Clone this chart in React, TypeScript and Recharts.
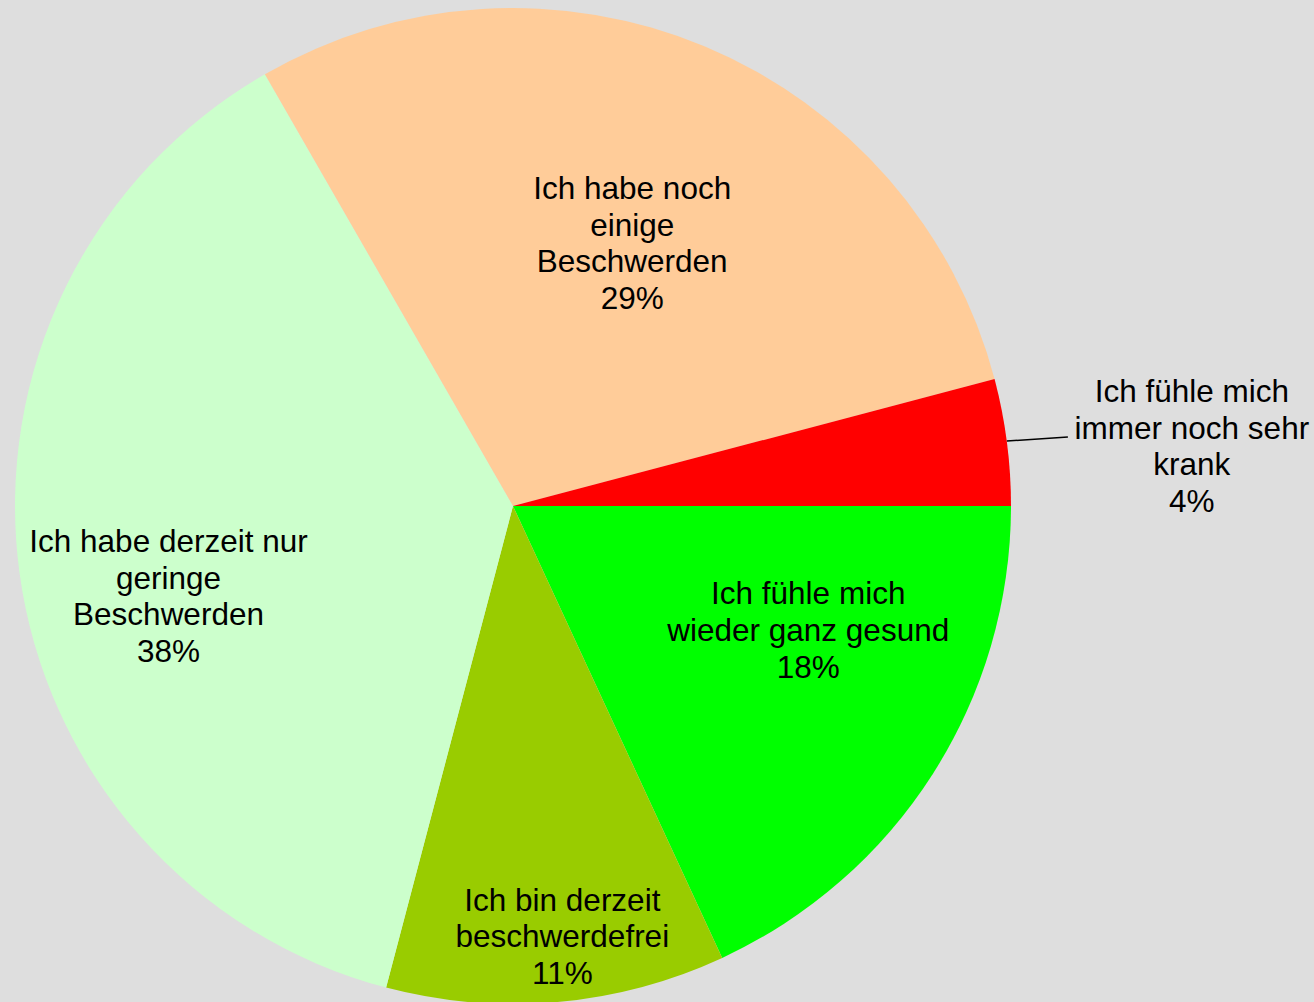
import { Cell, Pie, PieChart } from "recharts"

const categories = [
  "Ich fühle mich wieder ganz gesund",
  "Ich bin derzeit beschwerdefrei",
  "Ich habe derzeit nur geringe Beschwerden",
  "Ich habe noch einige Beschwerden",
  "Ich fühle mich immer noch sehr krank",
]

const shares = [18.1, 11.0, 37.6, 29.2, 4.1]

const labelLines = [
  ["Ich fühle mich", "wieder ganz gesund"],
  ["Ich bin derzeit", "beschwerdefrei"],
  ["Ich habe derzeit nur", "geringe", "Beschwerden"],
  ["Ich habe noch", "einige", "Beschwerden"],
  ["Ich fühle mich", "immer noch sehr", "krank"],
]

const colors = ["#00FF00", "#99CC00", "#CCFFCC", "#FFCC99", "#FF0000"]

const data = categories.map((name, i) => ({ name, value: shares[i] }))

// where excel put each label: fraction of the radius + angle nudge off the slice middle
const labelPlace = [
  { r: 0.643, shift: 9.8 },
  { r: 0.87, shift: 1.5 },
  { r: 0.715, shift: 7.1 },
  { r: 0.58, shift: -1.7 },
]

const RAD = Math.PI / 180
const LINE_H = 36.7
const FONT = "'Liberation Sans', Arial, sans-serif"

function renderLabel(props: any) {
  const { cx, cy, midAngle, outerRadius, index, percent } = props
  const lines = [...labelLines[index], `${Math.round(percent * 100)}%`]
  let x: number
  let y: number
  let leader = null

  if (index < labelPlace.length) {
    const p = labelPlace[index]
    const a = (midAngle + p.shift) * RAD
    x = cx + outerRadius * p.r * Math.cos(-a)
    y = cy + outerRadius * p.r * Math.sin(-a)
  } else {
    // small red slice: label outside with a leader line
    const a = midAngle * RAD
    const sx = cx + outerRadius * Math.cos(-a)
    const sy = cy + outerRadius * Math.sin(-a) - 1
    const ex = sx + 61
    const ey = sy - 4
    leader = <polyline points={`${sx},${sy} ${ex},${ey}`} stroke="#000" strokeWidth={1.5} fill="none" />
    x = ex + 124
    y = ey + 9
  }

  const top = y - ((lines.length - 1) / 2) * LINE_H
  return (
    <g key={`lbl-${index}`}>
      {leader}
      <text x={x} y={top} textAnchor="middle" dominantBaseline="central" fill="#000" fontSize={31.5} fontFamily={FONT}>
        {lines.map((l, i) => (
          <tspan key={i} x={x} y={top + i * LINE_H}>
            {l}
          </tspan>
        ))}
      </text>
    </g>
  )
}

export default function App() {
  return (
    <div style={{ position: "fixed", left: 0, top: 0, width: 1314, height: 1002, background: "#DEDEDE", overflow: "hidden" }}>
      <PieChart width={1314} height={1002} margin={{ top: 0, right: 0, bottom: 0, left: 0 }}>
        <Pie
          data={data}
          dataKey="value"
          nameKey="name"
          cx={513}
          cy={506}
          outerRadius={498}
          startAngle={0}
          endAngle={-360}
          stroke="none"
          label={renderLabel}
          labelLine={false}
          isAnimationActive={false}
        >
          {data.map((d, i) => (
            <Cell key={d.name} fill={colors[i]} />
          ))}
        </Pie>
      </PieChart>
    </div>
  )
}
